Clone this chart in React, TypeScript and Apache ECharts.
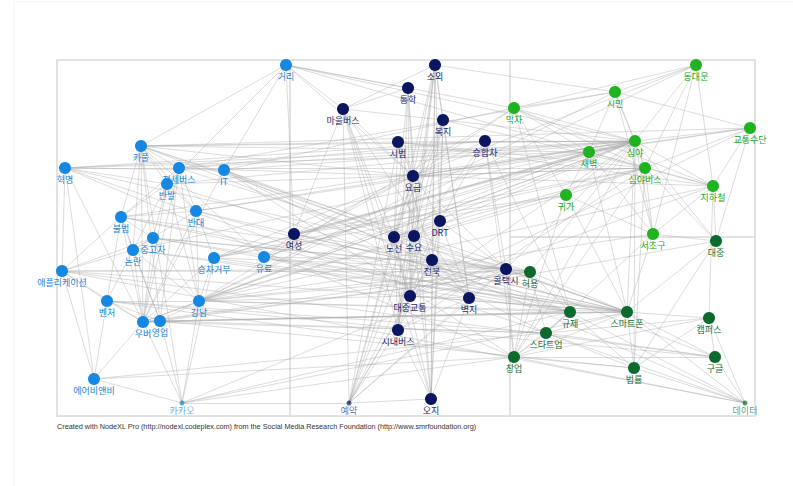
import React, { useEffect, useRef } from "react";
import * as echarts from "echarts";

// Node groups: [label, x, y] in layout units (NodeXL layout space)
const blueNodes: [string, number, number][] = [
  ["거리", 286, 65], ["카풀", 141, 146], ["혁명", 65, 168], ["전세버스", 179, 168],
  ["IT", 224, 170], ["반발", 167, 184], ["반대", 196, 211], ["불법", 121, 217],
  ["중고차", 153, 238], ["논란", 133, 250], ["승차거부", 214, 258], ["유료", 264, 257],
  ["애플리케이션", 62, 271], ["벤처", 107, 301], ["강남", 199, 301], ["우버", 143, 322],
  ["영업", 160, 321], ["에어비앤비", 94, 379], ["카카오", 182, 403],
];
const navyNodes: [string, number, number][] = [
  ["소외", 435, 65], ["통학", 408, 88], ["마을버스", 343, 109], ["복지", 443, 120],
  ["시범", 398, 142], ["승합차", 485, 141], ["요금", 413, 176], ["DRT", 440, 221],
  ["여성", 294, 234], ["노선", 394, 237], ["수요", 414, 236], ["전북", 432, 260],
  ["콜택시", 506, 269], ["대중교통", 410, 296], ["벽지", 469, 298], ["시내버스", 398, 330],
  ["오지", 431, 399], ["예약", 349, 403],
];
const greenNodes: [string, number, number][] = [
  ["동대문", 696, 65], ["시민", 615, 92], ["막차", 514, 108], ["교통수단", 750, 128],
  ["심야", 635, 141], ["새벽", 589, 152], ["심야버스", 645, 168], ["귀가", 566, 195],
  ["지하철", 713, 186], ["서초구", 653, 234],
];
const darkGreenNodes: [string, number, number][] = [
  ["대중", 716, 241], ["허용", 530, 272], ["규제", 570, 312], ["스마트폰", 627, 312],
  ["캠퍼스", 709, 318], ["스타트업", 546, 333], ["창업", 514, 357], ["법률", 634, 368],
  ["구글", 715, 357], ["데이터", 745, 403],
];
const edgeNodes = ["카카오", "예약", "데이터"];

const edgesByNode: [string, string[]][] = [
  ["우버", ["카풀", "불법", "논란", "영업", "카카오", "에어비앤비", "벤처", "애플리케이션", "중고차", "반발", "반대", "승차거부", "강남", "규제", "스마트폰", "허용", "스타트업", "심야", "콜택시", "전세버스", "IT", "혁명"]],
  ["카풀", ["불법", "반발", "반대", "논란", "심야", "스마트폰", "규제", "허용", "카카오", "영업", "유료", "전세버스", "거리", "요금", "교통수단", "새벽", "시범"]],
  ["불법", ["논란", "영업", "반발", "반대", "애플리케이션", "규제", "허용", "스마트폰", "중고차", "전세버스", "벤처", "심야"]],
  ["혁명", ["전세버스", "IT", "애플리케이션", "에어비앤비", "심야", "스타트업", "창업", "허용", "반발", "승합차", "새벽"]],
  ["전세버스", ["반발", "반대", "강남", "심야", "요금", "영업", "노선", "승합차", "시민", "심야버스"]],
  ["IT", ["거리", "스타트업", "창업", "스마트폰", "데이터", "심야", "구글", "막차"]],
  ["반발", ["반대", "논란", "중고차", "심야", "규제", "강남", "심야버스"]],
  ["반대", ["논란", "강남", "심야", "규제", "스마트폰", "승차거부", "새벽"]],
  ["중고차", ["논란", "강남", "애플리케이션", "스마트폰", "허용", "규제", "콜택시"]],
  ["논란", ["영업", "벤처", "애플리케이션", "강남", "스마트폰", "규제", "심야"]],
  ["승차거부", ["강남", "심야", "심야버스", "콜택시", "새벽", "귀가", "요금", "카카오", "스마트폰"]],
  ["유료", ["심야", "요금", "대중교통", "스마트폰", "여성", "전북", "새벽"]],
  ["애플리케이션", ["벤처", "스마트폰", "콜택시", "허용", "데이터", "구글", "에어비앤비"]],
  ["벤처", ["에어비앤비", "스타트업", "창업", "구글", "영업", "강남"]],
  ["강남", ["심야", "심야버스", "서초구", "새벽", "귀가", "스마트폰", "규제", "허용", "영업", "카카오", "콜택시", "막차", "시민", "지하철", "대중교통", "동대문"]],
  ["영업", ["스마트폰", "규제", "허용", "카카오", "스타트업", "법률"]],
  ["에어비앤비", ["스타트업", "창업", "카카오"]],
  ["카카오", ["스마트폰", "창업", "콜택시", "규제", "예약"]],
  ["거리", ["마을버스", "막차", "통학", "심야", "요금", "여성", "반발", "새벽"]],
  ["소외", ["요금", "수요", "노선", "대중교통", "DRT", "오지", "벽지", "복지", "마을버스", "전북", "시내버스", "시민"]],
  ["통학", ["시내버스", "대중교통", "마을버스", "노선", "오지", "요금"]],
  ["마을버스", ["노선", "시내버스", "요금", "대중교통", "벽지", "오지", "예약", "여성", "심야"]],
  ["복지", ["요금", "수요", "노선", "DRT", "대중교통", "오지", "벽지", "예약", "심야버스"]],
  ["시범", ["심야", "DRT", "수요", "요금", "심야버스", "노선", "예약", "전북", "지하철"]],
  ["승합차", ["심야", "콜택시", "DRT", "요금", "수요", "창업", "규제"]],
  ["요금", ["심야", "심야버스", "노선", "수요", "대중교통", "시내버스", "지하철", "교통수단", "막차", "콜택시", "예약", "동대문"]],
  ["DRT", ["수요", "노선", "전북", "예약", "대중교통", "콜택시", "벽지", "오지"]],
  ["여성", ["심야", "귀가", "새벽", "심야버스", "스마트폰", "콜택시", "요금"]],
  ["노선", ["수요", "대중교통", "시내버스", "심야버스", "예약", "오지", "전북", "심야"]],
  ["수요", ["대중교통", "시내버스", "예약", "전북", "벽지", "오지", "심야"]],
  ["전북", ["벽지", "오지", "대중교통", "시내버스", "예약", "콜택시"]],
  ["콜택시", ["벽지", "허용", "스마트폰", "심야", "예약", "창업"]],
  ["대중교통", ["시내버스", "벽지", "예약", "심야", "지하철", "교통수단", "스마트폰", "대중"]],
  ["벽지", ["오지", "예약", "시내버스"]],
  ["시내버스", ["예약", "오지", "심야버스"]],
  ["오지", ["예약"]],
  ["심야", ["동대문", "시민", "막차", "교통수단", "새벽", "심야버스", "귀가", "지하철", "서초구", "대중", "스마트폰", "법률", "창업", "허용"]],
  ["시민", ["동대문", "막차", "심야버스", "새벽", "교통수단", "서초구"]],
  ["막차", ["동대문", "새벽", "지하철", "심야버스", "귀가", "규제"]],
  ["동대문", ["심야버스", "지하철", "서초구"]],
  ["교통수단", ["지하철", "심야버스", "대중", "새벽"]],
  ["새벽", ["심야버스", "귀가", "지하철", "서초구", "스마트폰"]],
  ["심야버스", ["서초구", "지하철", "귀가", "대중", "법률", "창업"]],
  ["귀가", ["서초구", "스마트폰", "창업"]],
  ["지하철", ["대중", "서초구", "캠퍼스"]],
  ["서초구", ["대중", "스마트폰", "스타트업"]],
  ["스마트폰", ["규제", "허용", "스타트업", "법률", "캠퍼스", "구글", "대중", "데이터", "창업"]],
  ["규제", ["허용", "스타트업", "창업", "법률", "데이터"]],
  ["허용", ["스타트업", "창업"]],
  ["캠퍼스", ["구글", "스타트업", "창업", "데이터", "법률"]],
  ["구글", ["데이터", "창업", "스타트업"]],
  ["스타트업", ["창업", "법률", "데이터"]],
  ["창업", ["법률", "데이터"]],
  ["법률", ["데이터", "대중"]],
];

const footerText =
  "Created with NodeXL Pro (http://nodexl.codeplex.com) from the Social Media Research Foundation (http://www.smrfoundation.org)";

const groupStyles = [
  { nodes: blueNodes, color: "#1488e2", label: "#1a84d6" },
  { nodes: navyNodes, color: "#0b1660", label: "#1c2b6e" },
  { nodes: greenNodes, color: "#1fb41f", label: "#22a822" },
  { nodes: darkGreenNodes, color: "#0c6a2d", label: "#137036" },
];

export default function App() {
  const ref = useRef<HTMLDivElement>(null);
  useEffect(() => {
    if (!ref.current) return;
    const chart = echarts.init(ref.current, null, { renderer: "svg" });
    const font = '"Noto Sans CJK KR", "Noto Sans", sans-serif';

    const data: any[] = [];
    groupStyles.forEach((g) => {
      g.nodes.forEach(([name, x, y]) => {
        const small = edgeNodes.includes(name);
        data.push({
          name,
          value: [x, y],
          symbolSize: small ? 5 : 12,
          itemStyle: { color: g.color, opacity: small ? 0.7 : 1 },
          label: {
            show: true,
            position: "bottom",
            distance: small ? 0 : 1,
            color: g.label,
            fontSize: 9,
            fontFamily: font,
          },
        });
      });
    });

    const seen = new Set<string>();
    const links: any[] = [];
    edgesByNode.forEach(([src, targets]) => {
      targets.forEach((t) => {
        const key = [src, t].sort().join("|");
        if (seen.has(key) || src === t) return;
        seen.add(key);
        links.push({ source: src, target: t });
      });
    });

    const frame = "#d9d9d9";
    chart.setOption({
      animation: false,
      backgroundColor: "#ffffff",
      grid: { left: 0, right: 0, top: 0, bottom: 0 },
      xAxis: { type: "value", min: 0, max: 793, show: false },
      yAxis: { type: "value", min: 0, max: 486, inverse: true, show: false },
      graphic: [
        { type: "line", z: -10, shape: { x1: 14, y1: 2, x2: 793, y2: 2 }, style: { stroke: "#f1f1f1", lineWidth: 1 } },
        { type: "line", z: -10, shape: { x1: 14, y1: 2, x2: 14, y2: 486 }, style: { stroke: "#f1f1f1", lineWidth: 1 } },
        { type: "rect", z: -5, shape: { x: 57, y: 60, width: 698, height: 356 }, style: { fill: "none", stroke: frame, lineWidth: 1.5 } },
        { type: "line", z: -5, shape: { x1: 290, y1: 60, x2: 290, y2: 416 }, style: { stroke: frame, lineWidth: 1.5 } },
        { type: "line", z: -5, shape: { x1: 510, y1: 60, x2: 510, y2: 416 }, style: { stroke: frame, lineWidth: 1.5 } },
        { type: "line", z: -5, shape: { x1: 510, y1: 237, x2: 755, y2: 237 }, style: { stroke: frame, lineWidth: 1.5 } },
        {
          type: "text",
          left: 57,
          top: 423,
          style: { text: footerText, fill: "#333333", font: "7.25px 'Liberation Sans', Arial, sans-serif" },
        },
      ],
      series: [
        {
          type: "graph",
          coordinateSystem: "cartesian2d",
          layout: "none",
          data,
          links,
          edgeSymbol: ["none", "none"],
          lineStyle: { color: "#a8a8a8", opacity: 0.4, width: 1, curveness: 0 },
          emphasis: { disabled: true },
          z: 2,
        },
      ],
    });
    return () => chart.dispose();
  }, []);
  return (
    <div
      ref={ref}
      style={{ position: "absolute", left: 0, top: 0, width: 793, height: 486 }}
    />
  );
}
